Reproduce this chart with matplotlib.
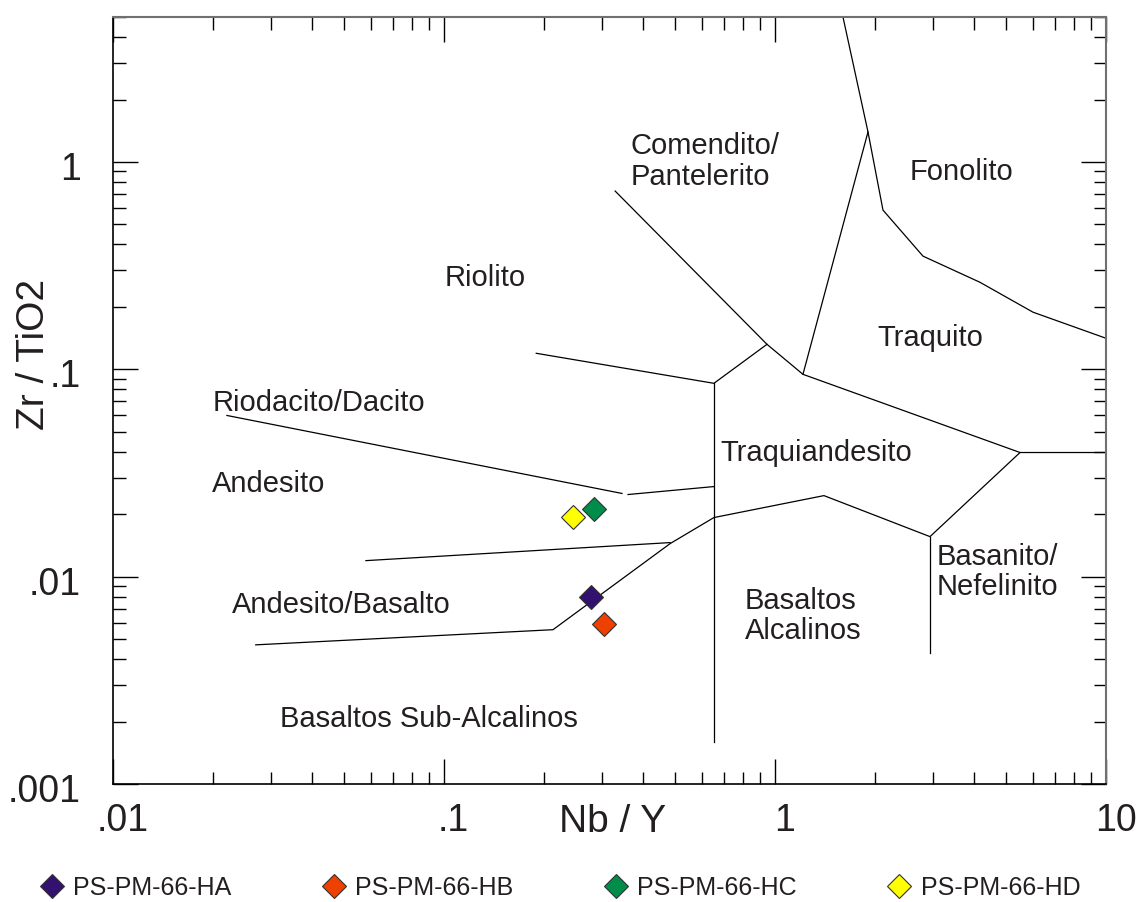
import matplotlib
matplotlib.use('Agg')
import matplotlib.pyplot as plt
from matplotlib.ticker import FixedLocator, LogLocator, NullFormatter
from matplotlib.transforms import ScaledTranslation

plt.rcParams['font.family'] = ['Liberation Sans', 'DejaVu Sans']
INK = '#231f20'

# muestras
samples = ['PS-PM-66-HA', 'PS-PM-66-HB', 'PS-PM-66-HC', 'PS-PM-66-HD']
nb_y = [0.278, 0.304, 0.284, 0.245]
zr_tio2 = [0.0080, 0.0059, 0.0213, 0.0195]
colors = ['#33116e', '#ee4000', '#008c4a', '#ffff00']

# limites de campos (Winchester & Floyd)
bound_x = [
    [0.329, 0.946, 1.215, 5.50, 10.0],
    [0.190, 0.654, 0.946],
    [0.654, 0.654],
    [0.0221, 0.345],
    [0.360, 0.654],
    [0.0581, 0.482],
    [0.0270, 0.2135, 0.482, 0.654, 1.406, 2.94, 5.50],
    [2.94, 2.94],
    [1.215, 1.910],
    [1.605, 1.910, 2.12, 2.80, 4.16, 6.02, 10.0],
]
bound_y = [
    [0.724, 0.132, 0.0946, 0.0397, 0.0397],
    [0.1195, 0.0856, 0.132],
    [0.0856, 0.0016],
    [0.0599, 0.0252],
    [0.0249, 0.0272],
    [0.01195, 0.0146],
    [0.00469, 0.00555, 0.01443, 0.01928, 0.0246, 0.0156, 0.0397],
    [0.0156, 0.0043],
    [0.0946, 1.396],
    [5.0, 1.396, 0.586, 0.3515, 0.263, 0.1886, 0.1412],
]

# nombres de campos
field_names = ['Riolito', 'Comendito/\nPantelerito', 'Fonolito', 'Traquito',
               'Riodacito/Dacito', 'Andesito', 'Traquiandesito',
               'Andesito/Basalto', 'Basaltos\nAlcalinos', 'Basanito/\nNefelinito',
               'Basaltos Sub-Alcalinos']
field_x = [0.1007, 0.367, 2.558, 2.033, 0.0200, 0.0199, 0.682, 0.0229, 0.812, 3.087, 0.0319]
field_y = [0.2877, 1.045, 0.925, 0.1476, 0.0716, 0.0291, 0.0411, 0.00757, 0.0067, 0.01093, 0.00215]

x_ticks = [0.01, 0.1, 1, 10]
x_labels = ['.01', '.1', '1', '10']
y_ticks = [0.001, 0.01, 0.1, 1]
y_labels = ['.001', '.01', '.1', '1']

fig = plt.figure(figsize=(11.41, 9.02), dpi=100)
ax = fig.add_axes([0.099, 0.1308, 0.8703, 0.8503])
ax.set_xscale('log')
ax.set_yscale('log')
ax.set_xlim(0.01, 10)
ax.set_ylim(0.001, 5.0)

for bx, by in zip(bound_x, bound_y):
    ax.plot(bx, by, color='black', lw=0.9)

# etiquetas un poco mas abajo del punto de anclaje
txt_shift = ScaledTranslation(0, -2.5 / 72, fig.dpi_scale_trans)
for name, fx, fy in zip(field_names, field_x, field_y):
    ax.text(fx, fy, name, fontsize=21, color=INK, ha='left', va='center',
            linespacing=1.1, transform=ax.transData + txt_shift)

for s, x, y, c in zip(samples, nb_y, zr_tio2, colors):
    ax.plot([x], [y], ls='none', marker='D', ms=12.5, mfc=c, mec='#333333',
            mew=0.8, label=s, zorder=5)

ax.xaxis.set_major_locator(FixedLocator(x_ticks))
ax.set_xticklabels(x_labels)
ax.yaxis.set_major_locator(FixedLocator(y_ticks))
ax.set_yticklabels(y_labels)
ax.xaxis.set_minor_locator(LogLocator(base=10, subs=range(2, 10), numticks=20))
ax.yaxis.set_minor_locator(LogLocator(base=10, subs=range(2, 10), numticks=20))
ax.xaxis.set_minor_formatter(NullFormatter())
ax.yaxis.set_minor_formatter(NullFormatter())

ax.tick_params(which='both', direction='in', top=True, right=True,
               colors='black', labelcolor=INK, width=1)
ax.tick_params(which='major', length=18, labelsize=27)
ax.tick_params(which='minor', length=9)
ax.tick_params(axis='x', which='major', pad=14)
ax.tick_params(axis='y', which='major', pad=23)

for lab in ax.get_xticklabels():
    lab.set_transform(lab.get_transform() + ScaledTranslation(7 / 72, 0, fig.dpi_scale_trans))
for lab in ax.get_yticklabels():
    lab.set_transform(lab.get_transform() + ScaledTranslation(0, -3 / 72, fig.dpi_scale_trans))

for side in ['left', 'bottom']:
    ax.spines[side].set_color('black')
    ax.spines[side].set_linewidth(1.2)
for side in ['top', 'right']:
    ax.spines[side].set_color('#707070')
    ax.spines[side].set_linewidth(1.5)

ax.set_xlabel('Nb / Y', fontsize=28, color=INK)
ax.xaxis.set_label_coords(0.503, -0.05)
ax.xaxis.label.set_va('center')
ax.set_ylabel('Zr / TiO2', fontsize=28, color=INK)
ax.yaxis.set_label_coords(-0.08, 0.56)
ax.yaxis.label.set_va('center')

fig.legend(loc='center left', bbox_to_anchor=(0.0346, 0.0155), ncol=4,
           frameon=False, fontsize=18, handlelength=1.0, handletextpad=0.35,
           columnspacing=3.6, borderpad=0, borderaxespad=0, labelcolor=INK)

fig.savefig('out.png', dpi=100)
